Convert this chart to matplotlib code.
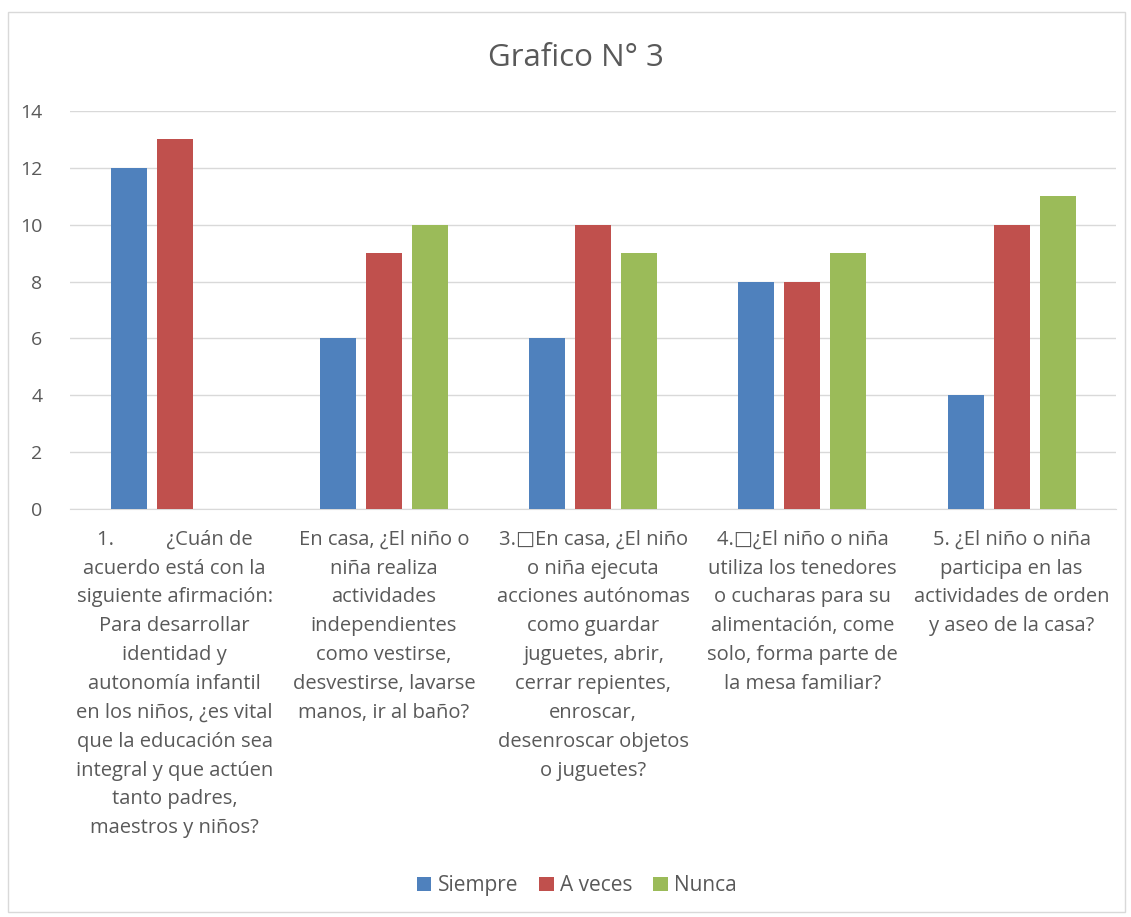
import numpy as np
import matplotlib.pyplot as plt
from matplotlib.patches import Rectangle

categorias = [
    "1.          ¿Cuán de\nacuerdo está con la\nsiguiente afirmación:\nPara desarrollar\nidentidad y\nautonomía infantil\nen los niños, ¿es vital\nque la educación sea\nintegral y que actúen\ntanto padres,\nmaestros y niños?",
    "En casa, ¿El niño o\nniña realiza\nactividades\nindependientes\ncomo vestirse,\ndesvestirse, lavarse\nmanos, ir al baño?",
    "3.\u25a1En casa, ¿El niño\no niña ejecuta\nacciones autónomas\ncomo guardar\njuguetes, abrir,\ncerrar repientes,\nenroscar,\ndesenroscar objetos\no juguetes?",
    "4.\u25a1¿El niño o niña\nutiliza los tenedores\no cucharas para su\nalimentación, come\nsolo, forma parte de\nla mesa familiar?",
    "5. ¿El niño o niña\nparticipa en las\nactividades de orden\ny aseo de la casa?",
]
siempre = [12, 6, 6, 8, 4]
a_veces = [13, 9, 10, 8, 10]
nunca = [0, 10, 9, 9, 11]

series = ["Siempre", "A veces", "Nunca"]
colores = ["#4F81BD", "#C0504D", "#9BBB59"]
texto = "#595959"

plt.rcParams['font.family'] = ['Open Sans', 'DejaVu Sans']

fig = plt.figure(figsize=(11.31, 9.17), dpi=100)
ax = fig.add_axes([0.062, 0.445, 0.925, 0.434])

x = np.arange(len(categorias))
w = 0.172
paso = 0.22
for i, (vals, c, nombre) in enumerate(zip([siempre, a_veces, nunca], colores, series)):
    ax.bar(x + (i - 1) * paso, vals, width=w, color=c, label=nombre, zorder=3)

ax.set_xlim(-0.5, len(categorias) - 0.5)
ax.set_ylim(0, 14)
ax.set_yticks(range(0, 15, 2))
ax.yaxis.grid(True, color="#D9D9D9", linewidth=1, zorder=0)
for s in ["top", "right", "left"]:
    ax.spines[s].set_visible(False)
ax.spines["bottom"].set_color("#D9D9D9")
ax.tick_params(axis="y", length=0, labelsize=14, colors=texto, pad=20)
ax.tick_params(axis="x", length=0, colors=texto, pad=15)
ax.set_xticks(x)
ax.set_xticklabels(categorias, fontsize=14.5, linespacing=1.59, va="top")

fig.text(0.509, 0.937, "Grafico N° 3", fontsize=22.5, color=texto, ha="center", va="center")

fig.legend(loc="center", bbox_to_anchor=(0.51, 0.034), ncol=3, frameon=False,
           fontsize=15, labelcolor=texto, handlelength=0.7, handleheight=0.7,
           columnspacing=1.0, handletextpad=0.3)

fig.add_artist(Rectangle((0.007, 0.005), 0.988, 0.982, transform=fig.transFigure,
                         fill=False, edgecolor="#D9D9D9", linewidth=1))

fig.savefig("out.png", dpi=100, facecolor="white")
